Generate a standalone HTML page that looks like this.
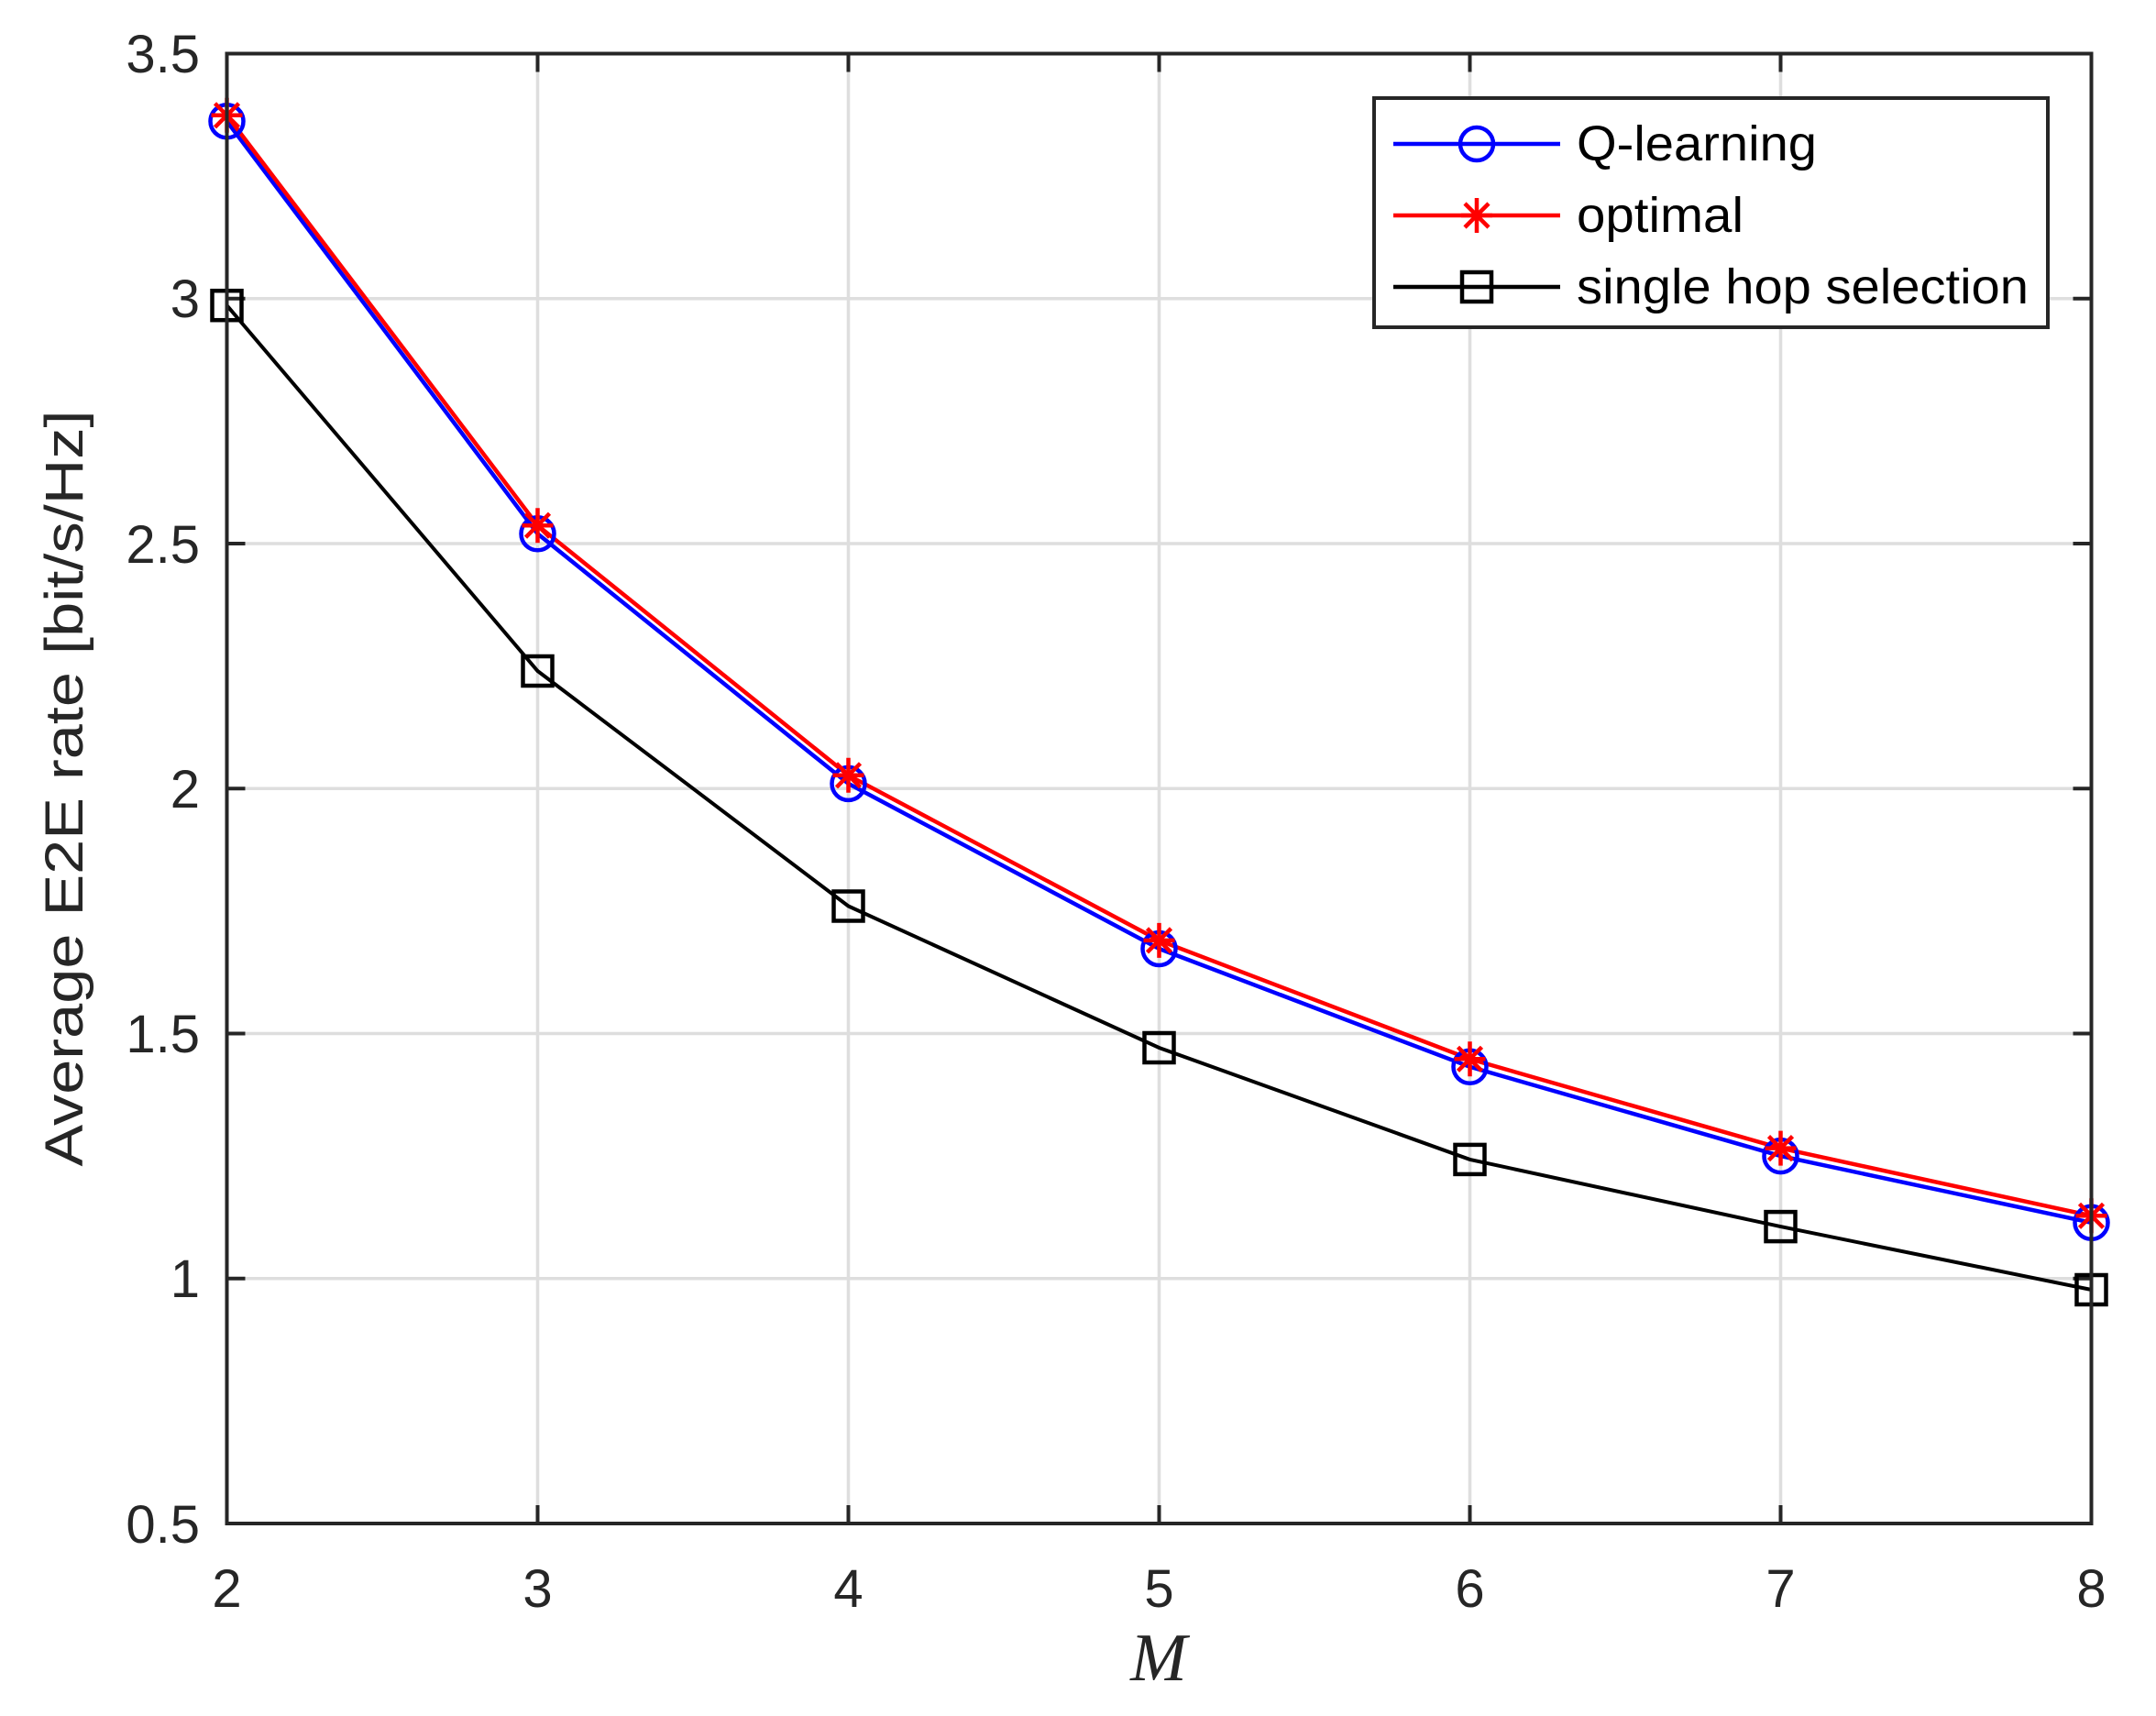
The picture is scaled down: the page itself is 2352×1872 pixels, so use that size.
<!DOCTYPE html>
<html><head><meta charset="utf-8"><style>
html,body{margin:0;padding:0;background:#fff;}
svg{display:block;}
text{font-family:"Liberation Sans",Arial,sans-serif;fill:#262626;}
</style></head><body>
<svg width="2352" height="1872" viewBox="0 0 2352 1872" xmlns="http://www.w3.org/2000/svg">
<rect width="2352" height="1872" fill="#fff"/>
<g stroke="#dedede" stroke-width="3.5">
<line x1="586.5" y1="58.5" x2="586.5" y2="1662"/>
<line x1="925.5" y1="58.5" x2="925.5" y2="1662"/>
<line x1="1264.5" y1="58.5" x2="1264.5" y2="1662"/>
<line x1="1603.5" y1="58.5" x2="1603.5" y2="1662"/>
<line x1="1942.5" y1="58.5" x2="1942.5" y2="1662"/>
<line x1="247.5" y1="325.8" x2="2281.5" y2="325.8"/>
<line x1="247.5" y1="593" x2="2281.5" y2="593"/>
<line x1="247.5" y1="860.3" x2="2281.5" y2="860.3"/>
<line x1="247.5" y1="1127.5" x2="2281.5" y2="1127.5"/>
<line x1="247.5" y1="1394.8" x2="2281.5" y2="1394.8"/>
</g>
<g stroke="#262626" stroke-width="4">
<path d="M586.5 1662v-20M925.5 1662v-20M1264.5 1662v-20M1603.5 1662v-20M1942.5 1662v-20
M586.5 58.5v20M925.5 58.5v20M1264.5 58.5v20M1603.5 58.5v20M1942.5 58.5v20
M247.5 325.8h20M247.5 593h20M247.5 860.3h20M247.5 1127.5h20M247.5 1394.8h20
M2281.5 325.8h-20M2281.5 593h-20M2281.5 860.3h-20M2281.5 1127.5h-20M2281.5 1394.8h-20"/>
</g>
<polyline fill="none" stroke="#000" stroke-width="4" points="247.5,333.2 586.5,732 925.5,988.5 1264.5,1143 1603.5,1264.9 1942.5,1338.1 2281.5,1407"/>
<polyline fill="none" stroke="#0000ff" stroke-width="4.5" points="247.5,132.3 586.5,582.3 925.5,854.9 1264.5,1035 1603.5,1163.8 1942.5,1261.1 2281.5,1333.8"/>
<polyline fill="none" stroke="#ff0000" stroke-width="4.5" points="247.5,125.8 586.5,573.2 925.5,845.8 1264.5,1025.9 1603.5,1155.3 1942.5,1252.6 2281.5,1326.3"/>
<defs>
<g id="sq"><rect x="-16" y="-16" width="32" height="32" fill="none" stroke="#000" stroke-width="4.5"/></g>
<g id="ci"><circle r="18" fill="none" stroke="#0000ff" stroke-width="4.5"/></g>
<g id="st" stroke="#ff0000" stroke-width="4.5"><path d="M0 -19V19M-17 0H17M-13 -13L13 13M-13 13L13 -13"/></g>
</defs>
<g>
<use href="#sq" x="247.5" y="333.2"/><use href="#sq" x="586.5" y="732"/><use href="#sq" x="925.5" y="988.5"/><use href="#sq" x="1264.5" y="1143"/><use href="#sq" x="1603.5" y="1264.9"/><use href="#sq" x="1942.5" y="1338.1"/><use href="#sq" x="2281.5" y="1407"/>
<use href="#ci" x="247.5" y="132.3"/><use href="#ci" x="586.5" y="582.3"/><use href="#ci" x="925.5" y="854.9"/><use href="#ci" x="1264.5" y="1035"/><use href="#ci" x="1603.5" y="1163.8"/><use href="#ci" x="1942.5" y="1261.1"/><use href="#ci" x="2281.5" y="1333.8"/>
<use href="#st" x="247.5" y="125.8"/><use href="#st" x="586.5" y="573.2"/><use href="#st" x="925.5" y="845.8"/><use href="#st" x="1264.5" y="1025.9"/><use href="#st" x="1603.5" y="1155.3"/><use href="#st" x="1942.5" y="1252.6"/><use href="#st" x="2281.5" y="1326.3"/>
</g>
<rect x="247.5" y="58.5" width="2034" height="1603.5" fill="none" stroke="#262626" stroke-width="4"/>
<g font-size="58" text-anchor="end">
<text x="218" y="79">3.5</text>
<text x="218" y="346">3</text>
<text x="218" y="614">2.5</text>
<text x="218" y="881">2</text>
<text x="218" y="1148">1.5</text>
<text x="218" y="1415">1</text>
<text x="218" y="1683">0.5</text>
</g>
<g font-size="58" text-anchor="middle">
<text x="247.5" y="1753">2</text>
<text x="586.5" y="1753">3</text>
<text x="925.5" y="1753">4</text>
<text x="1264.5" y="1753">5</text>
<text x="1603.5" y="1753">6</text>
<text x="1942.5" y="1753">7</text>
<text x="2281.5" y="1753">8</text>
</g>
<text x="1264" y="1833" font-size="74" font-style="italic" text-anchor="middle" style="font-family:'Liberation Serif',serif">M</text>
<text transform="translate(90,860) rotate(-90)" font-size="58" text-anchor="middle" textLength="825" lengthAdjust="spacingAndGlyphs">Average E2E rate [bit/s/Hz]</text>
<rect x="1499" y="107" width="735" height="250" fill="#fff" stroke="#262626" stroke-width="4"/>
<line x1="1520" y1="157" x2="1702" y2="157" stroke="#0000ff" stroke-width="4.5"/>
<use href="#ci" x="1611" y="157"/>
<line x1="1520" y1="235" x2="1702" y2="235" stroke="#ff0000" stroke-width="4.5"/>
<use href="#st" x="1611" y="235"/>
<line x1="1520" y1="313" x2="1702" y2="313" stroke="#000" stroke-width="4.5"/>
<use href="#sq" x="1611" y="313"/>
<g font-size="54">
<text x="1720" y="175" textLength="262" lengthAdjust="spacingAndGlyphs" style="fill:#000">Q-learning</text>
<text x="1720" y="253" textLength="182" lengthAdjust="spacingAndGlyphs" style="fill:#000">optimal</text>
<text x="1720" y="331" textLength="493" lengthAdjust="spacingAndGlyphs" style="fill:#000">single hop selection</text>
</g>
</svg>
</body></html>
